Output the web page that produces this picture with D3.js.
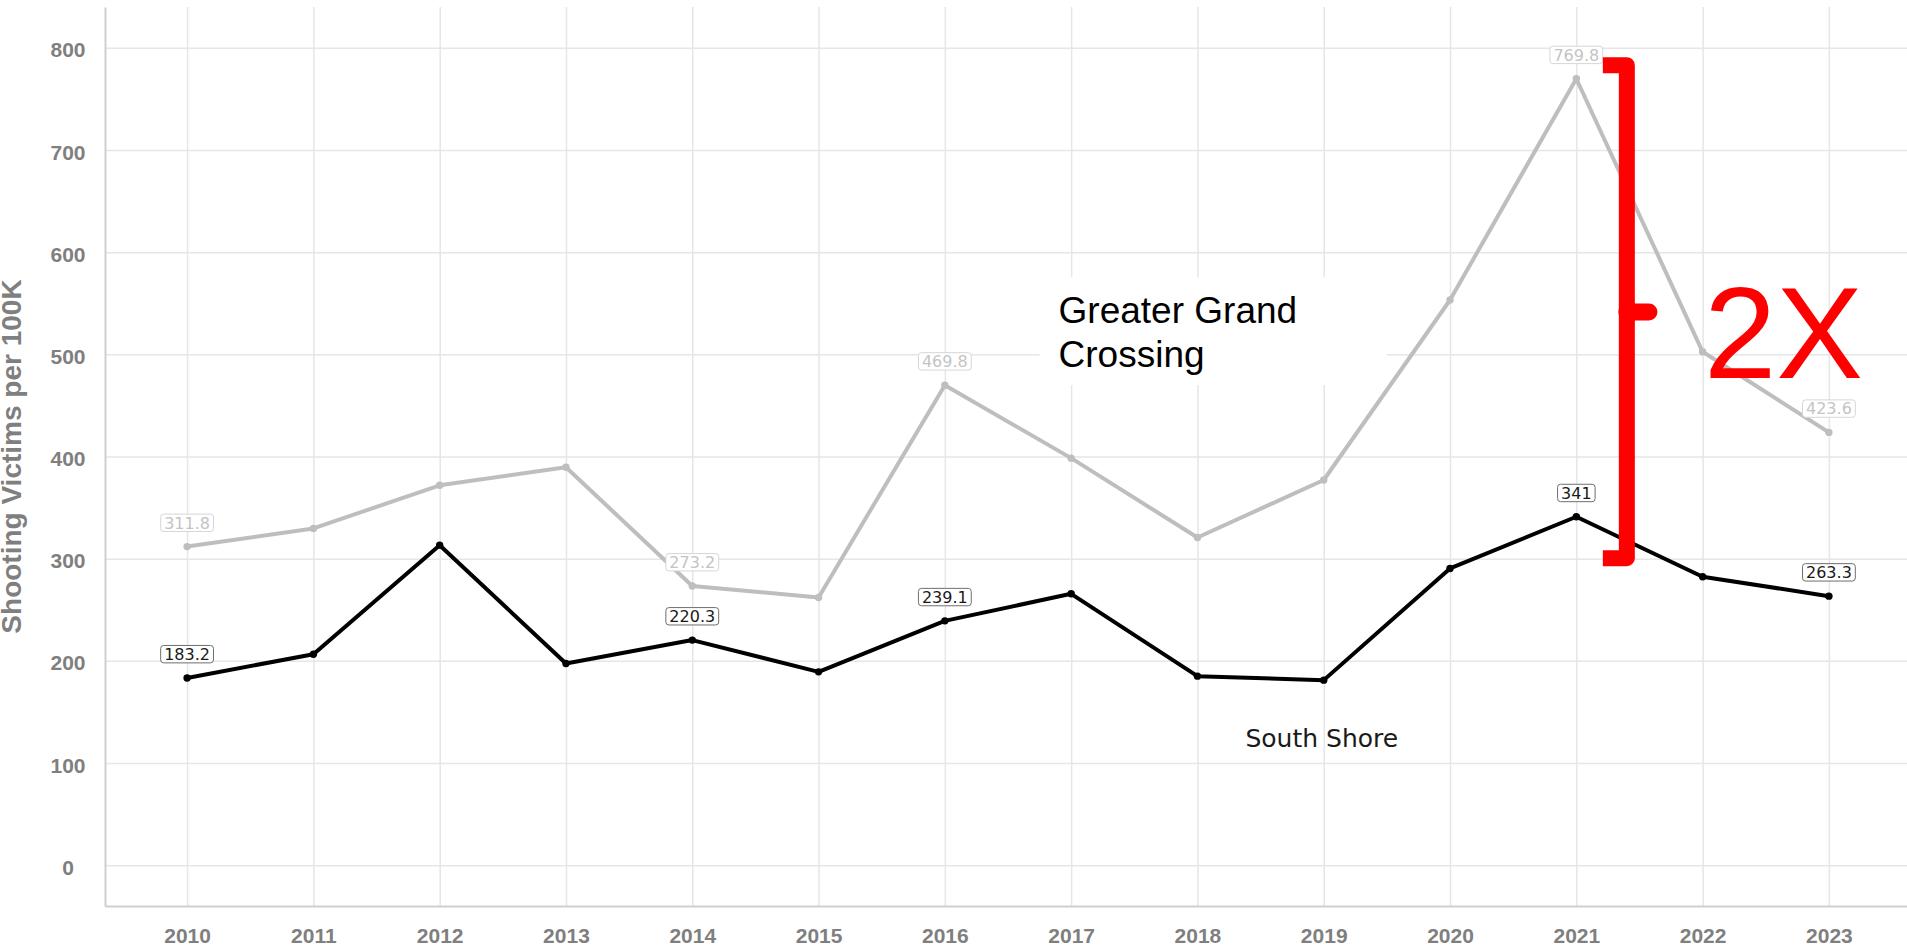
<!DOCTYPE html>
<html lang="en">
<head>
    <meta charset="UTF-8">
    <title>Shooting Victims per 100K</title>
    <script src="https://d3js.org/d3.v7.min.js"></script>
    <style>
        body {
            margin: 0;
            background: #fff;
        }
        svg {
            display: block;
        }
        .grid line {
            stroke: #e6e6e6;
            stroke-width: 1.5;
        }
        .axis path {
            stroke: #cfcfcf;
            stroke-width: 2;
        }
        .axis text {
            font-family: 'Liberation Sans', Arial, sans-serif;
            font-weight: bold;
            font-size: 21px;
            fill: #7f7f7f;
        }
        .value-label {
            font-family: 'DejaVu Sans', sans-serif;
            font-size: 16px;
        }
    </style>
</head>
<body>
    <svg width="1907" height="949"></svg>
    <script>
        var years = [2010, 2011, 2012, 2013, 2014, 2015, 2016, 2017, 2018, 2019, 2020, 2021, 2022, 2023];
        var greaterGrandCrossing = [311.8, 329.6, 371.8, 389.5, 273.2, 262.0, 469.8, 398.4, 320.7, 377.0, 553.2, 769.8, 502.5, 423.6];
        var southShore = [183.2, 206.5, 313.2, 197.4, 220.3, 189.2, 239.1, 265.6, 185.0, 181.1, 290.4, 341, 282.3, 263.3];
        var yTicks = [0, 100, 200, 300, 400, 500, 600, 700, 800];
        var labelYears = [2010, 2014, 2016, 2021, 2023];

        var width = 1907, height = 949;
        var svg = d3.select("svg");

        var x = d3.scaleLinear().domain([2009.35, 2023.65]).range([105, 1911]);
        var y = d3.scaleLinear().domain([-40, 840]).range([906, 7]);

        // grid
        svg.append("g")
            .attr("class", "grid")
            .attr("transform", "translate(0,906)")
            .call(d3.axisBottom(x).tickValues(years).tickSize(-899).tickFormat(""))
            .call(g => g.select(".domain").remove());

        svg.append("g")
            .attr("class", "grid")
            .attr("transform", "translate(105,0)")
            .call(d3.axisLeft(y).tickValues(yTicks).tickSize(-(width - 105)).tickFormat(""))
            .call(g => g.select(".domain").remove());

        // white box behind the "Greater Grand Crossing" note
        svg.append("rect")
            .attr("x", x(2016.75))
            .attr("y", y(575.5))
            .attr("width", x(2019.5) - x(2016.75))
            .attr("height", y(470) - y(575.5))
            .attr("fill", "#fff");

        // axes
        var xAxis = svg.append("g")
            .attr("class", "axis")
            .attr("transform", "translate(0,906)")
            .call(d3.axisBottom(x).tickValues(years).tickFormat(d3.format("d")).tickSize(0).tickPadding(22));
        xAxis.selectAll(".tick line").remove();

        var yAxis = svg.append("g")
            .attr("class", "axis")
            .attr("transform", "translate(105,0)")
            .call(d3.axisLeft(y).tickValues(yTicks).tickSize(0).tickPadding(37));
        yAxis.selectAll(".tick line").remove();
        yAxis.selectAll(".tick text")
            .attr("text-anchor", "middle")
            .attr("dy", "0.43em");

        svg.append("text")
            .attr("transform", "translate(21," + y(400) + ") rotate(-90)")
            .attr("text-anchor", "middle")
            .style("font-family", "'Liberation Sans', Arial, sans-serif")
            .style("font-weight", "bold")
            .style("font-size", "28px")
            .style("fill", "#7f7f7f")
            .text("Shooting Victims per 100K");

        var line = d3.line()
            .x(function(d, i) { return x(years[i]); })
            .y(function(d) { return y(d); });

        function drawSeries(values, color, textColor, borderColor) {
            svg.append("path")
                .datum(values)
                .attr("d", line)
                .attr("fill", "none")
                .attr("stroke", color)
                .attr("stroke-width", 4)
                .attr("stroke-linejoin", "round");

            svg.selectAll(null)
                .data(values)
                .enter().append("circle")
                .attr("cx", function(d, i) { return x(years[i]); })
                .attr("cy", function(d) { return y(d); })
                .attr("r", 3.7)
                .attr("fill", color);

            labelYears.forEach(function(yr) {
                var v = values[years.indexOf(yr)];
                var g = svg.append("g");
                var rect = g.append("rect");
                var t = g.append("text")
                    .attr("class", "value-label")
                    .attr("x", x(yr))
                    .attr("y", y(v) - 18)
                    .attr("text-anchor", "middle")
                    .attr("fill", textColor)
                    .text(String(v));
                var w = t.node().getComputedTextLength();
                rect.attr("x", x(yr) - w / 2 - 3.5)
                    .attr("y", y(v) - 18 - 14.5)
                    .attr("width", w + 7)
                    .attr("height", 17.4)
                    .attr("rx", 3)
                    .attr("fill", "#fff")
                    .attr("stroke", borderColor)
                    .attr("stroke-width", 1);
            });
        }

        drawSeries(greaterGrandCrossing, "#bebebe", "#c4c4c4", "#d6d6d6");
        drawSeries(southShore, "#000", "#1a1a1a", "#6e6e6e");

        // annotations
        svg.append("text")
            .style("font-family", "'Liberation Sans', Arial, sans-serif")
            .style("font-size", "37px")
            .style("fill", "#000")
            .selectAll("tspan")
            .data(["Greater Grand", "Crossing"])
            .enter().append("tspan")
            .attr("x", x(2016.75) + 19)
            .attr("y", function(d, i) { return 322.7 + i * 44; })
            .text(function(d) { return d; });

        svg.append("text")
            .attr("x", x(2018.38))
            .attr("y", y(115.9))
            .style("font-family", "'DejaVu Sans', sans-serif")
            .style("font-size", "25px")
            .style("fill", "#1a1a1a")
            .text("South Shore");

        // red brace between the two 2021 peaks
        var braceX = x(2021.4), braceLeft = x(2021.21);
        var braceTop = y(783), braceBottom = y(300.5), braceMid = y(541.5);
        svg.append("path")
            .attr("d", "M" + braceLeft + "," + braceTop + "H" + braceX + "V" + braceBottom + "H" + braceLeft)
            .attr("fill", "none")
            .attr("stroke", "#ff0000")
            .attr("stroke-width", 16)
            .attr("stroke-linejoin", "round");
        svg.append("line")
            .attr("x1", braceX)
            .attr("x2", x(2021.575))
            .attr("y1", braceMid)
            .attr("y2", braceMid)
            .attr("stroke", "#ff0000")
            .attr("stroke-width", 17)
            .attr("stroke-linecap", "round");

        svg.append("text")
            .attr("x", x(2022.01))
            .attr("y", y(476.5))
            .style("font-family", "'Liberation Sans', Arial, sans-serif")
            .style("font-size", "130px")
            .style("fill", "#ff0000")
            .text("2X");
    </script>
</body>
</html>
